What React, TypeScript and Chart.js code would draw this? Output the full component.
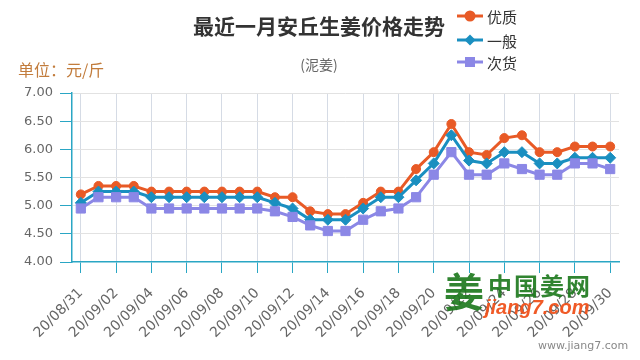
import React, { useEffect, useRef } from "react";
import { Chart, registerables } from "chart.js";

Chart.register(...registerables);

// ---- data ----
const dates = [
  "20/08/31", "20/09/01", "20/09/02", "20/09/03", "20/09/04", "20/09/05", "20/09/06", "20/09/07",
  "20/09/08", "20/09/09", "20/09/10", "20/09/11", "20/09/12", "20/09/13", "20/09/14", "20/09/15",
  "20/09/16", "20/09/17", "20/09/18", "20/09/19", "20/09/20", "20/09/21", "20/09/22", "20/09/23",
  "20/09/24", "20/09/25", "20/09/26", "20/09/27", "20/09/28", "20/09/29", "20/09/30",
];
const youzhi = [
  5.2, 5.35, 5.35, 5.35, 5.25, 5.25, 5.25, 5.25, 5.25, 5.25, 5.25, 5.15, 5.15, 4.9, 4.85, 4.85,
  5.05, 5.25, 5.25, 5.65, 5.95, 6.45, 5.95, 5.9, 6.2, 6.25, 5.95, 5.95, 6.05, 6.05, 6.05,
];
const yiban = [
  5.05, 5.25, 5.25, 5.25, 5.15, 5.15, 5.15, 5.15, 5.15, 5.15, 5.15, 5.05, 4.95, 4.75, 4.75, 4.75,
  4.95, 5.15, 5.15, 5.45, 5.75, 6.25, 5.8, 5.75, 5.95, 5.95, 5.75, 5.75, 5.85, 5.85, 5.85,
];
const cihuo = [
  4.95, 5.15, 5.15, 5.15, 4.95, 4.95, 4.95, 4.95, 4.95, 4.95, 4.95, 4.9, 4.8, 4.65, 4.55, 4.55,
  4.75, 4.9, 4.95, 5.15, 5.55, 5.95, 5.55, 5.55, 5.75, 5.65, 5.55, 5.55, 5.75, 5.75, 5.65,
];
const seriesNames = ["优质", "一般", "次货"];
const yMin = 4.0;
const yMax = 7.0;
const yStep = 0.5;

const titleText = "最近一月安丘生姜价格走势";
const subtitleText = "(泥姜)";
const unitText = "单位：元/斤";

// ---- styles ----
const COLORS = ["#e85a26", "#1a8fc0", "#8b87e6"];
const TEAL = "#2aa6c4";
const CJK = '"Noto Sans CJK SC", "Noto Sans", sans-serif';
const LATIN = '"DejaVu Sans", sans-serif';

function LegendMark({ idx }: { idx: number }) {
  const c = COLORS[idx];
  return (
    <svg width={26} height={14} style={{ display: "block" }}>
      <line x1={0} y1={7} x2={26} y2={7} stroke={c} strokeWidth={3} />
      {idx === 0 && <circle cx={13} cy={7} r={5.5} fill={c} />}
      {idx === 1 && <polygon points="13,1.5 18.5,7 13,12.5 7.5,7" fill={c} />}
      {idx === 2 && <rect x={8} y={2} width={10} height={10} fill={c} />}
    </svg>
  );
}

export default function App() {
  const canvasRef = useRef<HTMLCanvasElement | null>(null);

  useEffect(() => {
    const canvas = canvasRef.current;
    if (!canvas) return;
    const series = [youzhi, yiban, cihuo];
    const styles = ["circle", "rectRot", "rect"];
    const radii = [4.5, 5.5, 6.5];
    const chart = new Chart(canvas, {
      type: "line",
      data: {
        labels: dates,
        datasets: series.map((d, i) => ({
          label: seriesNames[i],
          data: d,
          borderColor: COLORS[i],
          backgroundColor: COLORS[i],
          borderWidth: 3,
          pointStyle: styles[i] as any,
          pointRadius: radii[i],
          pointBorderWidth: 1,
          pointBorderColor: COLORS[i],
          pointBackgroundColor: COLORS[i],
          tension: 0,
          order: 3 - i,
        })),
      },
      options: {
        responsive: false,
        animation: false,
        events: [],
        layout: { padding: { left: 0, right: 21, top: 93, bottom: 0 } },
        plugins: {
          legend: { display: false },
          title: { display: false },
          tooltip: { enabled: false },
        },
        scales: {
          x: {
            type: "category",
            offset: true,
            grid: {
              offset: false,
              color: (ctx: any) => (ctx.index % 2 === 0 ? "#d5dbe5" : "rgba(0,0,0,0)"),
              tickColor: (ctx: any) => (ctx.index % 2 === 0 ? TEAL : "rgba(0,0,0,0)"),
              tickLength: 11,
              lineWidth: 1,
            },
            border: { color: TEAL, width: 1.5 },
            ticks: {
              autoSkip: false,
              minRotation: 45,
              maxRotation: 45,
              padding: 12,
              color: "#666",
              font: { family: LATIN, size: 14 },
              callback: (_v: any, i: number) => (i % 2 === 0 ? dates[i] : ""),
            },
            afterFit: (s: any) => {
              s.height = 98;
            },
          },
          y: {
            min: yMin,
            max: yMax,
            grid: {
              color: (ctx: any) =>
                ctx.tick && ctx.tick.value === yMin ? "rgba(0,0,0,0)" : "#e2e2e2",
              tickColor: TEAL,
              tickLength: 12,
            },
            border: { color: TEAL, width: 1.5 },
            ticks: {
              stepSize: yStep,
              padding: 7,
              color: "#666",
              font: { family: LATIN, size: 13 },
              callback: (v: any) => Number(v).toFixed(2),
            },
            afterFit: (s: any) => {
              s.width = 72;
            },
          },
        },
      },
    });
    return () => chart.destroy();
  }, []);

  const abs = (o: React.CSSProperties): React.CSSProperties => ({ position: "absolute", whiteSpace: "nowrap", ...o });

  return (
    <div style={{ position: "absolute", left: 0, top: 0, width: 640, height: 360, background: "#fff", overflow: "hidden" }}>
      <canvas ref={canvasRef} width={640} height={360} style={{ position: "absolute", left: 0, top: 0, width: 640, height: 360 }} />
      <div style={abs({ left: 0, width: 638, top: 15, textAlign: "center", fontFamily: CJK, fontWeight: 700, fontSize: 21, lineHeight: "21px", color: "#333" })}>
        {titleText}
      </div>
      <div style={abs({ left: 0, width: 638, top: 57, textAlign: "center", fontFamily: CJK, fontSize: 14, lineHeight: "14px", color: "#666" })}>
        {subtitleText}
      </div>
      <div style={abs({ left: 18, top: 61, fontFamily: CJK, fontSize: 16, lineHeight: "16px", color: "#c27c3c" })}>
        {unitText}
      </div>
      {seriesNames.map((n, i) => (
        <div key={n} style={abs({ left: 457, top: [9, 33, 55][i], display: "flex", alignItems: "center", height: 14 })}>
          <LegendMark idx={i} />
          <span style={{ marginLeft: 4, fontFamily: CJK, fontSize: 15, lineHeight: "15px", color: "#333" }}>{n}</span>
        </div>
      ))}
      <div style={abs({ left: 444, top: 270, fontFamily: CJK, fontWeight: 700, fontSize: 40, lineHeight: "40px", color: "#1f7a1f", opacity: 0.92 })}>
        姜
      </div>
      <div style={abs({ left: 488, top: 273, fontFamily: CJK, fontWeight: 700, fontSize: 24, lineHeight: "24px", letterSpacing: 2, color: "#1f7a1f", opacity: 0.92 })}>
        中国姜网
      </div>
      <div style={abs({ left: 485, top: 297, fontFamily: '"Liberation Sans", Arial, sans-serif', fontWeight: 700, fontStyle: "italic", fontSize: 20, lineHeight: "20px", color: "#f0521c", opacity: 0.95 })}>
        jiang7.com
      </div>
      <div style={abs({ left: 538, top: 340, fontFamily: LATIN, fontSize: 11, lineHeight: "12px", color: "#888" })}>
        www.jiang7.com
      </div>
    </div>
  );
}
